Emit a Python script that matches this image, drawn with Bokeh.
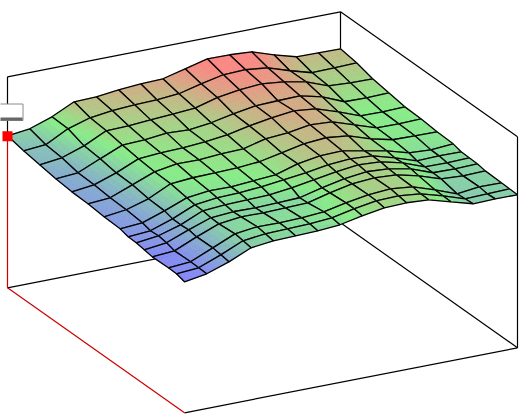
from bokeh.plotting import figure
from bokeh.models import Range1d, ColumnDataSource
from bokeh.embed import file_html
from bokeh.resources import INLINE

u_values = [0, 1, 2, 3, 4, 5, 6, 7, 7.5, 8, 8.5, 9, 10, 10.5, 11]
v_values = list(range(16))
Z0 = [152, 154.7, 162.3, 173, 173.7, 176.3, 178, 178.7, 184.3, 190, 189.7, 188.3, 181, 174.7, 174.3, 174]
Z1 = [148.4, 150.1, 161.7, 168.4, 171.1, 172.7, 173.4, 175.1, 180.7, 185.4, 186.1, 183.7, 176.4, 170.1, 170.7, 171.4]
Z2 = [145.7, 148.4, 156, 166.7, 167.4, 169, 170.4, 172.1, 178.3, 181.7, 183.4, 181, 176.7, 168.4, 167, 166.7]
Z3 = [143.1, 144.8, 154.4, 163.8, 164.8, 167.1, 166.1, 168.8, 173.4, 177.1, 177.8, 178.4, 173.1, 163.8, 163.4, 164.1]
Z4 = [141.4, 144.1, 151.7, 161.4, 163.1, 163.7, 165.4, 168.1, 172.7, 176.4, 179.1, 176.7, 169.4, 161.1, 160.7, 161.4]
Z5 = [140.8, 142.5, 151.1, 159.8, 163.5, 163.1, 164.8, 165.5, 171.1, 172.8, 176.5, 175.1, 167.8, 160.5, 160.1, 160.8]
Z6 = [139.2, 141.9, 148.5, 159.2, 160.9, 161.5, 162.2, 163.9, 168.5, 173.2, 174.9, 172.5, 165.2, 159.9, 159.5, 159.2]
Z7 = [138.5, 140.2, 147.8, 156.5, 159.2, 158.8, 160.5, 162.2, 168.8, 172.5, 173.2, 168.8, 164.5, 158.2, 156.8, 158.5]
Z8 = [136.2, 137.9, 145.5, 155.2, 157.9, 158.5, 160.2, 162.9, 165.5, 169.2, 170.9, 169.5, 163.2, 155.9, 156.5, 156.2]
Z9 = [135.9, 138.6, 145.2, 154.9, 156.6, 157.2, 157.9, 160.6, 164.2, 167.9, 170.6, 169.2, 163.9, 155.6, 155.2, 155.9]
Z10 = [134.6, 137.3, 145.9, 153.6, 155.3, 154.9, 155.6, 156.3, 161.9, 166.6, 169.3, 167.9, 163.6, 155.3, 154.9, 155.6]
Z11 = [133.2, 134.9, 144.5, 153.2, 155.9, 155.5, 156.2, 156.9, 162.5, 167.2, 168.9, 167.5, 162.2, 154.9, 153.5, 154.2]
Z12 = [133.6, 135.3, 144.9, 154.6, 157.3, 156.9, 157.6, 159.3, 163.9, 167.6, 169.3, 166.9, 159.6, 151.3, 153.9, 153.6]
Z13 = [133.3, 135, 143.6, 153.3, 156, 156.6, 157.3, 159, 163.6, 167.3, 168, 165.6, 159.3, 152, 152.6, 153.3]
Z14 = [131, 134.7, 142.3, 152, 154.7, 155.3, 156, 157.7, 162.3, 166, 166.7, 165.3, 159, 152.7, 153.3, 153]
Z = [Z0, Z1, Z2, Z3, Z4, Z5, Z6, Z7, Z8, Z9, Z10, Z11, Z12, Z13, Z14]

Z_TOP = 211.0
U_MAX, V_MAX = 11.0, 15.0
X0, Y0 = 7.0, 287.3
DXU, DYU = 177.0 / U_MAX, 125.0 / U_MAX
DXV, DYV = 333.0 / V_MAX, -65.0 / V_MAX
Z_LOW, Z_MID, Z_HIGH = 131.0, 161.0, 187.0
LOW_GAMMA = 1.12
C_LOW, C_MID, C_HIGH = (132, 132, 250), (136, 236, 136), (250, 136, 132)


def proj(u, v, z=0.0):
    return X0 + u * DXU + v * DXV, Y0 + u * DYU + v * DYV - z


def colour(z):
    if z <= Z_MID:
        t = max(0.0, (z - Z_LOW) / (Z_MID - Z_LOW)) ** LOW_GAMMA
        a, b = C_LOW, C_MID
    else:
        t = min(1.0, (z - Z_MID) / (Z_HIGH - Z_MID))
        a, b = C_MID, C_HIGH
    return "#%02x%02x%02x" % tuple(round(a[k] + (b[k] - a[k]) * t) for k in range(3))


p = figure(width=524, height=419, x_range=Range1d(0, 524), y_range=Range1d(419, 0),
           output_backend="svg", toolbar_location=None, min_border=0,
           outline_line_color=None, background_fill_color="white")
p.axis.visible = False
p.grid.visible = False
p.styles = {"position": "absolute", "left": "0px", "top": "0px"}


def edge(a, b, color):
    xa, ya = proj(*a)
    xb, yb = proj(*b)
    p.line([xa, xb], [ya, yb], line_color=color, line_width=1.2)


BOX = "#000000"
edge((0, V_MAX), (U_MAX, V_MAX), BOX)
edge((0, 0), (0, V_MAX), BOX)
edge((U_MAX, 0), (U_MAX, V_MAX), BOX)
edge((0, 0, Z_TOP), (0, V_MAX, Z_TOP), BOX)
edge((0, V_MAX, Z_TOP), (U_MAX, V_MAX, Z_TOP), BOX)
edge((0, V_MAX), (0, V_MAX, Z_TOP), BOX)
edge((U_MAX, V_MAX), (U_MAX, V_MAX, Z_TOP), BOX)
edge((0, 0, Z[0][0]), (0, 0, Z_TOP), BOX)
edge((0, 0), (0, 0, Z[0][0]), "#cc0000")
edge((0, 0), (U_MAX, 0), "#cc0000")

SUB = 4
cells = []
for i in range(len(u_values) - 1):
    for j in range(len(v_values) - 1):
        cells.append((DYU * (u_values[i] + u_values[i + 1]) + DYV * (v_values[j] + v_values[j + 1]), i, j))
cells.sort()

xs, ys, fills, lines, widths, alphas = [], [], [], [], [], []
for _, i, j in cells:
    u0, u1 = u_values[i], u_values[i + 1]
    v0, v1 = v_values[j], v_values[j + 1]
    z00, z01, z10, z11 = Z[i][j], Z[i][j + 1], Z[i + 1][j], Z[i + 1][j + 1]

    def at(a, b):
        z = (z00 * (1 - b) + z01 * b) * (1 - a) + (z10 * (1 - b) + z11 * b) * a
        return u0 + (u1 - u0) * a, v0 + (v1 - v0) * b, z

    for a in range(SUB):
        for b in range(SUB):
            corners = [at(a / SUB, b / SUB), at((a + 1) / SUB, b / SUB),
                       at((a + 1) / SUB, (b + 1) / SUB), at(a / SUB, (b + 1) / SUB)]
            pts = [proj(*c) for c in corners]
            xs.append([q[0] for q in pts])
            ys.append([q[1] for q in pts])
            c = colour(at((a + 0.5) / SUB, (b + 0.5) / SUB)[2])
            fills.append(c)
            lines.append(c)
            widths.append(0.7)
            alphas.append(1.0)
    pts = [proj(u0, v0, z00), proj(u1, v0, z10), proj(u1, v1, z11), proj(u0, v1, z01)]
    xs.append([q[0] for q in pts])
    ys.append([q[1] for q in pts])
    fills.append("#000000")
    lines.append("#000000")
    widths.append(1.3)
    alphas.append(0.0)

src = ColumnDataSource(dict(xs=xs, ys=ys, fc=fills, lc=lines, lw=widths, fa=alphas))
p.patches("xs", "ys", source=src, fill_color="fc", fill_alpha="fa", line_color="lc", line_width="lw")

# slider handle and marker on the left axis
p.quad(left=[-4], right=[22.5], top=[103.5], bottom=[120], fill_color="white", line_color="#8a8a8a", line_width=1)
p.quad(left=[-4], right=[22], top=[117], bottom=[120], fill_color="#666666", line_color=None)
mx, my = proj(0, 0, Z[0][0])
p.rect([mx], [my + 0.5], width=10, height=10, fill_color="#ff0000", line_color=None)

open("out.html", "w").write(file_html(p, INLINE))
